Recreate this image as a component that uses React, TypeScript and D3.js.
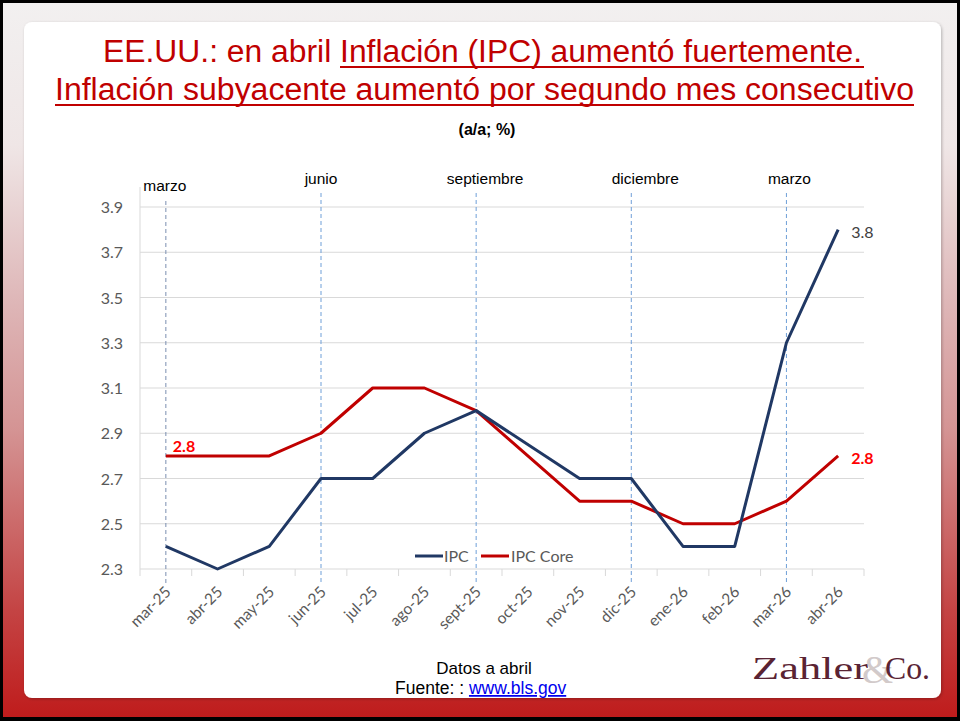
import React from "react";
import * as d3 from "d3";

const months = ["mar-25","abr-25","may-25","jun-25","jul-25","ago-25","sept-25","oct-25","nov-25","dic-25","ene-26","feb-26","mar-26","abr-26"];
const ipc: (number | null)[] = [2.4, 2.3, 2.4, 2.7, 2.7, 2.9, 3.0, null, 2.7, 2.7, 2.4, 2.4, 3.3, 3.8];
const ipcCore: (number | null)[] = [2.8, 2.8, 2.8, 2.9, 3.1, 3.1, 3.0, null, 2.6, 2.6, 2.5, 2.5, 2.6, 2.8];
const yTicks = [2.3, 2.5, 2.7, 2.9, 3.1, 3.3, 3.5, 3.7, 3.9];
const markerMonths = ["mar-25", "jun-25", "sept-25", "dic-25", "mar-26"];
const markerLabels = ["marzo", "junio", "septiembre", "diciembre", "marzo"];
const seriesNames = ["IPC", "IPC Core"];
const titleLine1a = "EE.UU.: en abril ";
const titleLine1b = "Inflación (IPC) aumentó fuertemente.";
const titleLine2 = "Inflación subyacente aumentó por segundo mes consecutivo";

// layout
const W = 960, H = 721;
const PL = 140, PR = 864, PT = 187, PB = 569;
const markerDx = [-1, 0, 9, 14, 3];
const IPC_COLOR = "#203864";
const CORE_COLOR = "#C00000";
const LABEL_FONT = "Lato, 'Open Sans', sans-serif";
const SANS = "'Liberation Sans', Arial, sans-serif";
const SERIF = "'Liberation Serif', 'Times New Roman', serif";

export default function App() {
  const x = d3.scaleBand<string>().domain(months).range([PL, PR]).padding(0);
  const cx = (m: string) => (x(m) as number) + x.bandwidth() / 2;
  const y = d3.scaleLinear().domain([2.3, 3.9]).range([PB, 207]);

  const mk = (vals: (number | null)[]) =>
    months.map((m, i) => ({ m, v: vals[i] })).filter((d) => d.v !== null) as { m: string; v: number }[];
  const line = d3.line<{ m: string; v: number }>().x((d) => cx(d.m)).y((d) => y(d.v));
  const ipcPts = mk(ipc);
  const corePts = mk(ipcCore);
  const lastM = months[months.length - 1];
  const boundaries = d3.range(months.length + 1).map((i) => PL + i * x.bandwidth());

  return (
    <div style={{ position: "fixed", left: 0, top: 0 }}>
      <svg width={W} height={H} style={{ display: "block" }}>
        <defs>
          <linearGradient id="bg" x1="0" y1="0" x2="0" y2="1">
            <stop offset="0" stopColor="#f2f0f0" />
            <stop offset="0.2" stopColor="#efe6e6" />
            <stop offset="0.42" stopColor="#deb6b7" />
            <stop offset="0.6" stopColor="#d49393" />
            <stop offset="0.85" stopColor="#c44444" />
            <stop offset="1" stopColor="#bf1c1c" />
          </linearGradient>
          <filter id="sh" x="-5%" y="-5%" width="110%" height="110%">
            <feDropShadow dx="1" dy="1" stdDeviation="1.5" floodColor="#000" floodOpacity="0.25" />
          </filter>
        </defs>
        <rect x={0} y={0} width={W} height={H} fill="#000" />
        <rect x={3} y={3} width={W - 6} height={H - 7} fill="url(#bg)" />
        <rect x={24} y={22} width={917} height={676} rx={8} fill="#fff" filter="url(#sh)" />

        {/* Title */}
        <g fontFamily={SANS} fill="#C00000" fontSize={31}>
          <text x={103} y={62} textLength={759} lengthAdjust="spacingAndGlyphs">
            {titleLine1a + titleLine1b}
          </text>
          <text x={55} y={100} textLength={859} lengthAdjust="spacingAndGlyphs">
            {titleLine2}
          </text>
        </g>
        <line x1={340} x2={864} y1={67} y2={67} stroke="#C00000" strokeWidth={2} />
        <line x1={55} x2={914} y1={105} y2={105} stroke="#C00000" strokeWidth={2} />
        <text x={487} y={135} textAnchor="middle" fontFamily={SANS} fontWeight="bold" fontSize={16} fill="#000">
          (a/a; %)
        </text>

        {/* gridlines */}
        {yTicks.map((t) => (
          <line key={t} x1={PL} x2={PR} y1={y(t)} y2={y(t)} stroke="#d9d9d9" strokeWidth={1} />
        ))}
        <line x1={PL} x2={PL} y1={PT} y2={PB} stroke="#d9d9d9" strokeWidth={1} />
        {boundaries.map((bx, i) => (
          <line key={i} x1={bx} x2={bx} y1={PB} y2={PB + 7} stroke="#d9d9d9" strokeWidth={1} />
        ))}

        {/* y labels */}
        {yTicks.map((t) => (
          <text key={t} x={123} y={y(t) + 6} textAnchor="end" fontFamily={LABEL_FONT} fontSize={16} fill="#595959">
            {d3.format(".1f")(t)}
          </text>
        ))}

        {/* x labels */}
        {months.map((m) => (
          <text
            key={m}
            transform={`translate(${cx(m) + 6},${PB + 24}) rotate(-45)`}
            textAnchor="end"
            fontFamily={LABEL_FONT}
            fontSize={15.5}
            fill="#595959"
          >
            {m}
          </text>
        ))}

        {/* marker dashed lines */}
        {markerMonths.map((m, i) => (
          <g key={i}>
            <line
              x1={cx(m)}
              x2={cx(m)}
              y1={i === 0 ? 201 : 193}
              y2={585}
              stroke={i === 0 ? "#7a8fb0" : "#6f9fd8"}
              strokeWidth={1}
              strokeDasharray="4,3"
            />
            <text
              x={cx(m) + markerDx[i]}
              y={i === 0 ? 191 : 184}
              textAnchor="middle"
              fontFamily={SANS}
              fontSize={15.5}
              fill="#000"
            >
              {markerLabels[i]}
            </text>
          </g>
        ))}

        {/* series */}
        <path d={line(corePts) || ""} fill="none" stroke={CORE_COLOR} strokeWidth={3} strokeLinejoin="round" />
        <path d={line(ipcPts) || ""} fill="none" stroke={IPC_COLOR} strokeWidth={3} strokeLinejoin="round" />

        {/* data labels */}
        <text x={cx(months[0]) + 7} y={y(ipcCore[0] as number) - 4} fontFamily={LABEL_FONT} fontWeight="bold" fontSize={16} fill="#FF0000">
          {d3.format(".1f")(ipcCore[0] as number)}
        </text>
        <text x={cx(lastM) + 13} y={y(ipcCore[months.length - 1] as number) + 8} fontFamily={LABEL_FONT} fontWeight="bold" fontSize={16} fill="#FF0000">
          {d3.format(".1f")(ipcCore[months.length - 1] as number)}
        </text>
        <text x={cx(lastM) + 13} y={y(ipc[months.length - 1] as number) + 8} fontFamily={LABEL_FONT} fontSize={16} fill="#404040">
          {d3.format(".1f")(ipc[months.length - 1] as number)}
        </text>

        {/* legend */}
        <line x1={415} x2={443} y1={556} y2={556} stroke={IPC_COLOR} strokeWidth={3} />
        <text x={444} y={562} fontFamily={LABEL_FONT} fontSize={16} fill="#595959">{seriesNames[0]}</text>
        <line x1={481} x2={509} y1={556} y2={556} stroke={CORE_COLOR} strokeWidth={3} />
        <text x={511} y={562} fontFamily={LABEL_FONT} fontSize={16} fill="#595959">{seriesNames[1]}</text>

        {/* footer */}
        <text x={484} y={674} textAnchor="middle" fontFamily={SANS} fontSize={17} fill="#000">
          Datos a abril
        </text>
        <text x={395} y={694} fontFamily={SANS} fontSize={17.5} fill="#000">
          Fuente: :{" "}
          <tspan fill="#0000EE" textDecoration="underline" style={{ textDecoration: "underline" }}>www.bls.gov</tspan>
        </text>

        {/* logo */}
        <text y={679} fontFamily={SERIF} fontSize={32} fill="#5a2333">
          <tspan x={752} textLength={116} lengthAdjust="spacingAndGlyphs">Zahler</tspan>
          <tspan x={862} dy={4} fontSize={40} fill="#d2caca">&amp;</tspan>
          <tspan x={885} dy={-4} textLength={45} lengthAdjust="spacingAndGlyphs">Co.</tspan>
        </text>
      </svg>
    </div>
  );
}
